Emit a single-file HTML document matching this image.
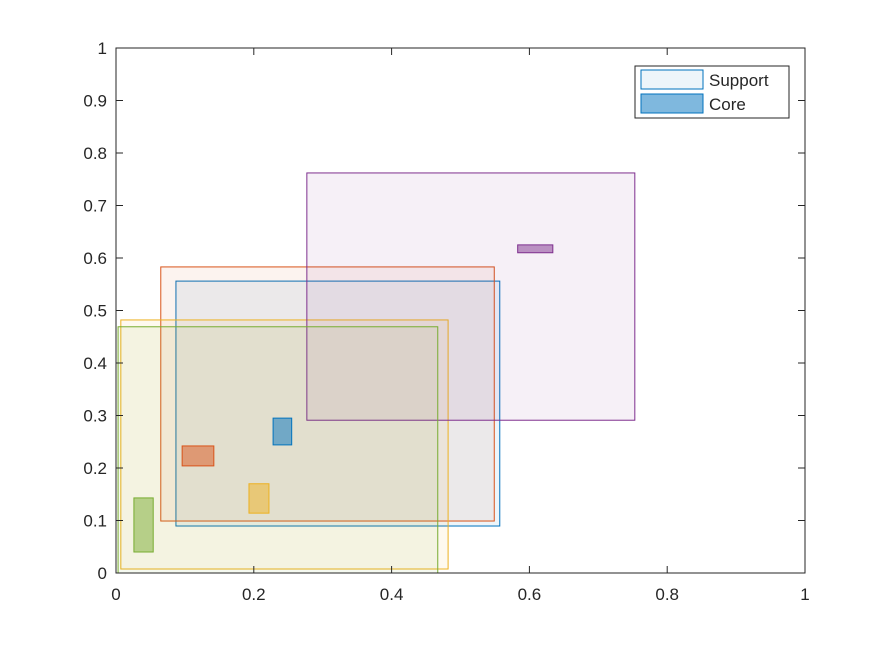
<!DOCTYPE html>
<html><head><meta charset="utf-8"><style>
body{margin:0;background:#fff;}
svg text{font-family:"Liberation Sans",sans-serif;font-size:17px;fill:#262626;}
</style></head><body>
<svg id="c" width="891" height="645" xmlns="http://www.w3.org/2000/svg"></svg>
<script>
const colors=['#0072BD','#D95319','#EDB120','#7E2F8E','#77AC30'];
const supX=[[0.087,0.557],[0.065,0.549],[0.007,0.482],[0.277,0.753],[0.003,0.467]];
const supY=[[0.0895,0.556],[0.099,0.583],[0.0076,0.482],[0.291,0.762],[0.0,0.469]];
const coreX=[[0.228,0.255],[0.096,0.142],[0.193,0.222],[0.583,0.634],[0.026,0.054]];
const coreY=[[0.244,0.295],[0.204,0.242],[0.114,0.170],[0.610,0.625],[0.040,0.143]];
const xTicks=['0','0.2','0.4','0.6','0.8','1'];
const yTicks=['0','0.1','0.2','0.3','0.4','0.5','0.6','0.7','0.8','0.9','1'];
const L=116,R=805,T=48,B=573;
const sx=v=>L+v*(R-L), sy=v=>B-v*(B-T);
const svg=document.getElementById('c');
const NS='http://www.w3.org/2000/svg';
function mk(t,a,p){const e=document.createElementNS(NS,t);for(const k in a)e.setAttribute(k,a[k]);(p||svg).appendChild(e);return e;}
let bg=mk('rect',{x:L,y:T,width:R-L,height:B-T,fill:'#fff'});


for(let i=0;i<5;i++){
  let r=mk('rect',{x:sx(supX[i][0]),y:sy(supY[i][1]),width:sx(supX[i][1])-sx(supX[i][0]),height:sy(supY[i][0])-sy(supY[i][1]),fill:colors[i],'fill-opacity':0.07,stroke:colors[i],'stroke-width':1});
  
  
}
for(let i=0;i<5;i++){
  let r=mk('rect',{x:sx(coreX[i][0]),y:sy(coreY[i][1]),width:sx(coreX[i][1])-sx(coreX[i][0]),height:sy(coreY[i][0])-sy(coreY[i][1]),fill:colors[i],'fill-opacity':0.5,stroke:colors[i],'stroke-width':1});
  
  
}
let ax=mk('rect',{x:L,y:T,width:R-L,height:B-T,fill:'none',stroke:'#262626','stroke-width':1});


xTicks.forEach((t,i)=>{const v=i/(xTicks.length-1),x=sx(v);
  mk('line',{x1:x,x2:x,y1:B,y2:B-7,stroke:'#262626'});mk('line',{x1:x,x2:x,y1:T,y2:T+7,stroke:'#262626'});
  let e=mk('text',{x:x,y:B+27,'text-anchor':'middle'});e.textContent=t;
  
  });
yTicks.forEach((t,i)=>{const v=i/(yTicks.length-1),y=sy(v);
  mk('line',{x1:L,x2:L+7,y1:y,y2:y,stroke:'#262626'});mk('line',{x1:R,x2:R-7,y1:y,y2:y,stroke:'#262626'});
  let e=mk('text',{x:L-9,y:y+6,'text-anchor':'end'});e.textContent=t;
  
  });
let lg=mk('g',{});


mk('rect',{x:635,y:66,width:154,height:52,fill:'#fff',stroke:'#262626'},lg);
mk('rect',{x:641,y:70,width:62,height:19,fill:'#0072BD','fill-opacity':0.07,stroke:'#0072BD'},lg);
mk('rect',{x:641,y:94,width:62,height:19,fill:'#0072BD','fill-opacity':0.5,stroke:'#0072BD'},lg);
let t1=mk('text',{x:709,y:86},lg);t1.textContent='Support';


let t2=mk('text',{x:709,y:110},lg);t2.textContent='Core';


</script>
</body></html>
